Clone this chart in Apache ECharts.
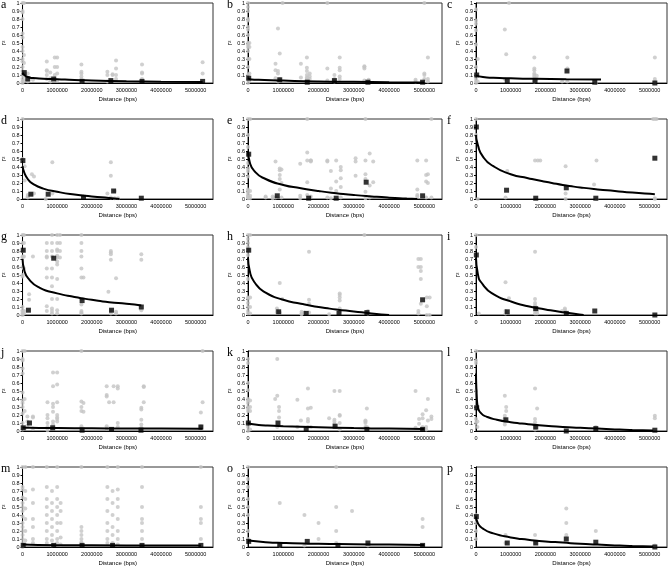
<!DOCTYPE html>
<html><head><meta charset="utf-8">
<script src="https://cdn.jsdelivr.net/npm/echarts/dist/echarts.min.js"></script>
<style>html,body{margin:0;padding:0;background:#fff}#c{width:670px;height:568px}</style>
</head><body><div id="c"></div>
<script>
// ---- tick labels / labels ----
const X_TICKS = [0,1000000,2000000,3000000,4000000,5000000];
const Y_TICKS = ['0','0.1','0.2','0.3','0.4','0.5','0.6','0.7','0.8','0.9','1'];
const LETTERS = ['a','b','c','d','e','f','g','h','i','j','k','l','m','o','p'];

// ---- grey dots: [distance, [r2 values...]] ----
const greyA = [[0,[1,0.9,0.88,0.8,0.62,0.57,0.45,0.4,0.3,0.27,0.2,0.15,0.1,0.05,0.02,0]],[40000,[1,0.35,0.25,0.12,0.08,0.03]],[150000,[0.12,0.05,0.02]],[300000,[0.04]],[700000,[0.27,0.16,0.15,0.1,0.05]],[800000,[0.13,0.06,0.02]],[930000,[0.32,0.2,0.1,0.05]],[1000000,[0.32,0.2,0.12,0.03]],[1700000,[0.23,0.14,0.12,0.08,0.05,0.02]],[2450000,[0.14,0.1,0.02]],[2600000,[0.11,0.1]],[2700000,[0.28,0.18,0.1,0.05]],[3450000,[0.23,0.13,0.12,0.05]],[5200000,[0.26,0.12]]];
const greyB = [[0,[1,0.95,0.9,0.8,0.78,0.7,0.67,0.6,0.5,0.48,0.45,0.4,0.3,0.2,0.1,0.05,0]],[40000,[0.5,0.45,0.3,0.12,0.03]],[780000,[0.24,0.16,0.06]],[850000,[0.68,0.15,0.12,0.02]],[900000,[0.37,0.05]],[980000,[1]],[1500000,[0.24,0.07]],[1670000,[0.32,0.19,0.15,0.1,0.07,0.05,0.03]],[1750000,[0.12,0.08,0.05]],[2250000,[1,0.18,0.03]],[2450000,[0.1,0.05,0.02]],[2600000,[0.32,0.19,0.16,0.08,0.05]],[3300000,[0.21,0.2,0.18,0.03]],[3420000,[0.04]],[4750000,[0.04,0.02]],[5000000,[1,0.12,0.1,0.05]],[5100000,[0.32,0.05,0.02]]];
const greyC = [[0,[0.92,0.78,0.74,0.66,0.48,0.2,0.1,0.05,0.02,0]],[50000,[0.3,0.02]],[830000,[0.67,0.05]],[870000,[0.36]],[950000,[1]],[1680000,[0.32,0.18,0.16,0.12,0.1,0.08,0.05,0.02]],[1750000,[0.09,0.05]],[2480000,[0.02]],[2630000,[0.32,0.18,0.02]],[3450000,[0]],[5150000,[0.32,0.05,0.01]]];
const greyD = [[0,[1,0.5]],[60000,[0.41,0.23]],[150000,[0.05,0.03,0.02]],[270000,[0.31,0.06]],[330000,[0.28,0.07]],[670000,[0]],[860000,[0.46,0.07]],[1760000,[0.03]],[2450000,[0.07]],[2550000,[0.46,0.29,0.02]],[2660000,[0.1,0.01]],[2760000,[0.01]]];
const greyE = [[0,[1,0.8,0.65,0.55,0.45,0.38,0.35,0.28,0.12,0.1,0.08,0.05,0.03,0.02,0.01]],[60000,[1,0.1,0.04,0.01]],[500000,[0.03,0.02]],[700000,[0.03,0.01]],[780000,[0.47,0.02]],[900000,[0.38,0.36,0.3,0.25,0.12]],[950000,[0.37,0.2,0.02]],[1480000,[0.44,0.04,0.01]],[1680000,[1,0.58,0.48,0.21,0.05]],[1780000,[0.48,0.47,0.48,0.03]],[2250000,[0.48,0.47,0.02]],[2350000,[0.35,0.13,0.01]],[2500000,[0.48,0.22,0.1]],[2630000,[0.4,0.36,0.26,0.15,0.02]],[3050000,[0.51,0.47,0.29]],[3330000,[1,0.48,0.31,0.25,0.09,0.01]],[3450000,[0.57,0.17,0.02]],[3550000,[0.47,0.21]],[4800000,[0.48,0.12,0.05,0.03]],[5050000,[0.48,0.3,0.22,0.02]],[5100000,[0.31,0.2]],[5200000,[1,0.02]]];
const greyF = [[0,[1,0.8]],[50000,[0]],[850000,[0.02]],[900000,[0.35]],[1700000,[0.48]],[1780000,[0.48]],[1850000,[0.48]],[2580000,[0.41,0.07,0]],[3400000,[0.18]],[3470000,[0.48,0]],[5100000,[1]],[5150000,[1,0.01,0]],[5200000,[1]]];
const greyG = [[0,[1,0.9,0.8,0.73,0.72,0.6,0.5,0.48,0.1,0.06,0.04,0.02,0]],[40000,[1,0.9,0.73,0.58,0.05,0.02]],[190000,[0.26,0.19]],[300000,[0.73]],[700000,[0.9,0.8,0.73,0.72,0.58,0.47,0.11,0.05]],[850000,[1,0.9,0.8,0.73,0.58,0.47,0.36,0.2,0.08,0.05,0.02]],[1000000,[1,0.9,0.82,0.8,0.74,0.72,0.67,0.63,0.45,0.2,0.06,0.02]],[1080000,[1,0.9,0.8,0.72]],[1700000,[1,0.9,0.8,0.73,0.58,0.47,0.2,0.13,0.05,0.03,0.02]],[1760000,[0.47]],[2480000,[0.29]],[2550000,[0.8,0.78,0.76,0.69,0.05,0.02]],[2700000,[0.46,0.04,0.02]],[3430000,[0.76,0.69,0.06]]];
const greyH = [[0,[1,0.95,0.9,0.85,0.82,0.8,0.75,0.45,0.22,0.2,0.15,0.1,0.05,0.02]],[60000,[1,0.22,0.1,0.02]],[820000,[0.08,0.05,0.03]],[900000,[0.4,0.03]],[970000,[0.2]],[1520000,[0.04,0.02,0.01]],[1600000,[0.03]],[1730000,[0.79,0.19,0.14,0.03]],[2300000,[0.01]],[2600000,[0.27,0.25,0.22,0.18,0.08,0.04]],[3300000,[1]],[3400000,[0.05,0.04,0.02]],[4830000,[0.7,0.6,0.05,0.02]],[4900000,[0.7,0.6,0.55,0.45,0.14]],[5070000,[0.22,0.11,0]],[5150000,[0.22,0]]];
const greyI = [[0,[1,0.85]],[80000,[0.02]],[850000,[0.41,0.05,0.02]],[950000,[0.21]],[1700000,[0.79,0.2,0.15,0.12,0.1,0.08,0.05,0.02]],[1760000,[0.05,0.02]],[2480000,[0.05]],[2560000,[0.08,0.06]]];
const greyJ = [[0,[1,0.9,0.88,0.78,0.72,0.48,0.38,0.35,0.3,0.22,0.1,0.05,0.02]],[60000,[1,0.4,0.25,0.03]],[140000,[0.18,0.12,0.07]],[300000,[0.18,0.17,0.03]],[720000,[0.36,0.2,0.16,0.1,0.05,0.01]],[880000,[0.73,0.56,0.34,0.3,0.24,0.12,0.08]],[1000000,[0.73,0.58,0.36,0.2,0.17,0.15,0.12]],[1700000,[1,0.37,0.3,0.25,0.06,0.03]],[1760000,[0.35,0.24]],[2430000,[0.56,0.45,0.43,0.06,0.03]],[2500000,[0.36]],[2630000,[0.56,0.36]],[2750000,[0.56,0.53,0.1,0.05]],[3430000,[0.29,0.27,0.14,0.08,0.04]],[3500000,[0.56,0.55,0.36]],[5150000,[0.23,0.06,0.04]],[5200000,[1,0.36]]];
const greyK = [[0,[0.9,0.85,0.6,0.51,0.4,0.38,0.35,0.3,0.28,0.25,0.1,0.05,0]],[60000,[0.38,0.3,0.25,0.02]],[770000,[0.4]],[830000,[0.9,0.44,0.05]],[880000,[0.3,0.25,0.17]],[1400000,[0.39,0.05]],[1500000,[0.13]],[1700000,[0.53,0.28,0.15,0.12,0.05]],[1780000,[0.29,0.05]],[2300000,[0.16]],[2450000,[0.5,0.14,0.12,0.09,0.06]],[2600000,[0.5,0.2,0.19,0.1,0.02]],[3330000,[0.13,0.12,0.1,0.05]],[3370000,[0.28,0.05]],[4750000,[0.5,0.04]],[4850000,[0.15,0.09]],[4950000,[0.21,0.16,0.05]],[5050000,[0.26,0.05,0.02]],[5100000,[0.4,0.13]],[5200000,[0.18,0.15]]];
const greyL = [[0,[1,0.88,0.85,0.5,0.3,0.15,0.1]],[40000,[0.12,0.05]],[830000,[0.44,0.19,0.16,0.08]],[870000,[0.3,0.25]],[1700000,[0.53,0.15,0.11,0.05,0.02]],[1760000,[0.28]],[3450000,[0.05,0.03]],[5150000,[0.19,0.16]]];
const greyM = [[0,[1,0.75,0.72,0.62,0.55,0.5,0.45,0.38,0.3,0.25,0.2,0.15,0.1,0.05,0.02,0]],[80000,[1,0.7,0.6,0.48,0.35,0.2,0.08,0.03]],[300000,[1,0.72,0.55,0.35,0.25,0.1,0.05]],[700000,[1,0.75,0.6,0.5,0.4,0.3,0.2,0.1,0.05]],[850000,[0.7,0.55,0.45,0.35,0.25,0.15,0.08,0.02]],[1000000,[1,0.75,0.6,0.5,0.4,0.3,0.2,0.1,0.05]],[1100000,[0.55,0.45,0.3,0.12,0.03]],[1700000,[1,0.25,0.2,0.15,0.1,0.06,0.03]],[2450000,[1,0.75,0.6,0.45,0.3,0.2,0.1,0.05]],[2600000,[0.7,0.55,0.4,0.25,0.15,0.05]],[2750000,[1,0.72,0.6,0.5,0.35,0.2,0.1,0.03]],[3450000,[1,0.75,0.5,0.35,0.3,0.2,0.1]],[5150000,[1,0.5,0.35,0.3,0.1]]];
const greyO = [[0,[1,0.85,0.75,0.6,0.5,0.4,0.2,0.1]],[900000,[0.55,0.02]],[1600000,[0.4,0.02]],[2000000,[0.3,0.1]],[2500000,[1,0.5,0.2,0.05]],[2950000,[0.45]],[3400000,[0.02]],[4950000,[0.35,0.25]]];
const greyP = [[0,[0.4,0.3,0.2,0.1]],[850000,[0.15,0.05]],[1700000,[0.15,0.05]],[2600000,[0.48,0.3,0.15]],[3450000,[0.2]],[5150000,[0.02]]];

// ---- black squares (means) ----
const meanA = [[50000,0.13],[150000,0.05],[900000,0.05],[1720000,0.02],[2550000,0.03],[3450000,0.02],[5200000,0.02]];
const meanB = [[20000,0.06],[900000,0.04],[1680000,0.01],[2450000,0.03],[3400000,0.01],[4950000,0.01]];
const meanC = [[20000,0.1],[900000,0.02],[1700000,0.03],[2620000,0.15],[3420000,0.01],[5150000,0]];
const meanD = [[10000,0.48],[240000,0.06],[740000,0.06],[1760000,0.02],[2630000,0.1],[3430000,0.01]];
const meanE = [[20000,0.56],[830000,0.04],[1720000,0.01],[2500000,0.01],[3350000,0.21],[4950000,0.04]];
const meanF = [[10000,0.9],[880000,0.11],[1720000,0.01],[2600000,0.14],[3450000,0.01],[5150000,0.51]];
const meanG = [[20000,0.81],[170000,0.06],[900000,0.71],[1720000,0.18],[2570000,0.06],[3430000,0.1]];
const meanH = [[20000,0.81],[870000,0.04],[1650000,0.02],[2580000,0.02],[3370000,0.03],[4950000,0.19]];
const meanI = [[10000,0.75],[900000,0.04],[1720000,0.08],[2600000,0.02],[3420000,0.05],[5150000,0]];
const meanJ = [[20000,0.04],[200000,0.1],[870000,0.04],[1720000,0.01],[2570000,0.02],[3420000,0.01],[5150000,0.05]];
const meanK = [[10000,0.1],[850000,0.1],[1650000,0.02],[2470000,0.06],[3370000,0.02],[4950000,0.02]];
const meanL = [[20000,0.29],[860000,0.14],[1720000,0.05],[2600000,0],[3450000,0.03],[5150000,0.01]];
const meanM = [[20000,0.02],[900000,0.02],[1720000,0.02],[2600000,0.02],[3450000,0.02],[5150000,0.02]];
const meanO = [[20000,0.07],[900000,0.03],[1680000,0.07],[2550000,0.02],[3400000,0.05],[4950000,0.02]];
const meanP = [[10000,0.38],[900000,0.05],[1720000,0.05],[2600000,0.1],[3450000,0.06],[5150000,0]];

// ---- trend curves ----
const curveA = [[0,0.13],[50000,0.1],[150000,0.075],[300000,0.062],[600000,0.054],[1000000,0.047],[1500000,0.038],[2000000,0.032],[3000000,0.022],[4000000,0.016],[5200000,0.012]];
const curveB = [[0,0.06],[100000,0.045],[300000,0.04],[1000000,0.03],[2000000,0.02],[3000000,0.015],[4000000,0.01],[5000000,0.006]];
const curveC = [[0,0.095],[200000,0.075],[500000,0.065],[1000000,0.058],[1700000,0.052],[2600000,0.047],[3600000,0.043]];
const curveD = [[0,0.41],[50000,0.33],[150000,0.25],[300000,0.19],[600000,0.13],[1000000,0.09],[1500000,0.055],[2000000,0.032],[2500000,0.012],[2800000,0]];
const curveE = [[0,0.6],[50000,0.46],[200000,0.34],[500000,0.25],[1000000,0.175],[1500000,0.135],[2000000,0.1],[2500000,0.072],[3000000,0.05],[3500000,0.032],[4000000,0.017],[4500000,0.006],[4800000,0]];
const curveF = [[0,0.8],[50000,0.68],[200000,0.53],[500000,0.41],[1000000,0.31],[1500000,0.26],[2000000,0.215],[2500000,0.175],[3000000,0.145],[3500000,0.12],[4000000,0.1],[4500000,0.08],[5150000,0.06]];
const curveG = [[0,0.7],[50000,0.56],[200000,0.44],[500000,0.34],[1000000,0.27],[1500000,0.225],[2000000,0.19],[2500000,0.16],[3000000,0.14],[3430000,0.12]];
const curveH = [[0,0.72],[50000,0.55],[200000,0.4],[500000,0.28],[1000000,0.19],[1500000,0.14],[2000000,0.1],[2500000,0.07],[3000000,0.045],[3500000,0.02],[4000000,0]];
const curveI = [[0,0.72],[50000,0.52],[200000,0.38],[500000,0.26],[1000000,0.17],[1500000,0.11],[2000000,0.07],[2500000,0.035],[3100000,0]];
const curveJ = [[0,0.045],[200000,0.04],[1000000,0.036],[2000000,0.033],[3000000,0.031],[4000000,0.03],[5200000,0.028]];
const curveK = [[0,0.1],[200000,0.08],[500000,0.07],[1000000,0.06],[2000000,0.046],[3000000,0.036],[4000000,0.03],[5000000,0.025]];
const curveL = [[0,0.72],[20000,0.45],[50000,0.3],[150000,0.22],[300000,0.18],[600000,0.14],[1000000,0.11],[1500000,0.085],[2000000,0.066],[2500000,0.05],[3000000,0.04],[3500000,0.03],[4000000,0.02],[4500000,0.012],[5100000,0.005]];
const curveM = [[0,0.03],[1000000,0.022],[3000000,0.02],[5150000,0.018]];
const curveO = [[0,0.08],[500000,0.06],[1000000,0.05],[2000000,0.04],[3000000,0.035],[4000000,0.03],[5000000,0.025]];
const curveP = [[0,0.38],[50000,0.3],[200000,0.23],[500000,0.17],[1000000,0.12],[1500000,0.09],[2000000,0.07],[2500000,0.055],[3000000,0.04],[3500000,0.03],[4000000,0.02],[4500000,0.012],[5100000,0.005]];

const GREY = [greyA,greyB,greyC,greyD,greyE,greyF,greyG,greyH,greyI,greyJ,greyK,greyL,greyM,greyO,greyP];
const MEAN = [meanA,meanB,meanC,meanD,meanE,meanF,meanG,meanH,meanI,meanJ,meanK,meanL,meanM,meanO,meanP];
const CURVE = [curveA,curveB,curveC,curveD,curveE,curveF,curveG,curveH,curveI,curveJ,curveK,curveL,curveM,curveO,curveP];

// ---- layout ----
const COL_LEFT = [20, 248, 476];
const COL_W = [193, 194, 192];
const LETTER_X = [1, 227, 447];
const ROW_TOP = 3, ROW_STEP = 116, ROW_H = 80;

const grids=[], xAxes=[], yAxes=[], series=[], titles=[];
for (let p=0; p<15; p++) {
  const r = Math.floor(p/3), c = p%3;
  const top = ROW_TOP + r*ROW_STEP;
  grids.push({left: COL_LEFT[c], top: top, width: COL_W[c], height: ROW_H, show: true, borderColor: '#333', borderWidth: 1, containLabel: false});
  xAxes.push({type:'value', gridIndex:p, min:0, max:5500000, interval:1000000,
    name:'Distance (bps)', nameLocation:'middle', nameGap:13,
    nameTextStyle:{fontSize:6, color:'#000', fontFamily:'Liberation Sans'},
    axisLine:{lineStyle:{color:'#000', width:1}}, axisTick:{show:false}, splitLine:{show:false},
    axisLabel:{fontSize:5.5, color:'#000', margin:4, fontFamily:'Liberation Sans',
      formatter: v => X_TICKS.indexOf(v) >= 0 ? String(v) : ''}});
  yAxes.push({type:'value', gridIndex:p, min:0, max:1, interval:0.1,
    name:'r\u00b2', nameLocation:'middle', nameGap:12, nameRotate:90,
    nameTextStyle:{fontSize:7, color:'#000', fontFamily:'Liberation Sans'},
    axisLine:{lineStyle:{color:'#000', width:1}}, axisTick:{show:true, length:2, lineStyle:{color:'#000'}}, splitLine:{show:false},
    axisLabel:{fontSize:5.5, color:'#000', margin:3, fontFamily:'Liberation Sans',
      formatter: v => Y_TICKS[Math.round(v*10)] || ''}});
  const pts = [];
  GREY[p].forEach(col => col[1].forEach(y => pts.push([col[0], y])));
  series.push({type:'scatter', xAxisIndex:p, yAxisIndex:p, data:pts, symbol:'circle', symbolSize:4,
    itemStyle:{color:'#c4c4c4'}, silent:true, z:2});
  series.push({type:'line', xAxisIndex:p, yAxisIndex:p, data:CURVE[p], showSymbol:false, smooth:0.6,
    lineStyle:{color:'#000', width:2}, silent:true, z:3});
  series.push({type:'scatter', xAxisIndex:p, yAxisIndex:p, data:MEAN[p], symbol:'rect', symbolSize:5,
    itemStyle:{color:'#000'}, silent:true, z:4});
  titles.push({text:LETTERS[p], left:LETTER_X[c], top:top-4, padding:0,
    textStyle:{fontSize:12, fontWeight:'normal', color:'#000', fontFamily:'Liberation Serif'}});
}

const chart = echarts.init(document.getElementById('c'), null, {renderer:'canvas'});
chart.setOption({animation:false, backgroundColor:'#fff', title:titles, grid:grids, xAxis:xAxes, yAxis:yAxes, series:series});
</script></body></html>
